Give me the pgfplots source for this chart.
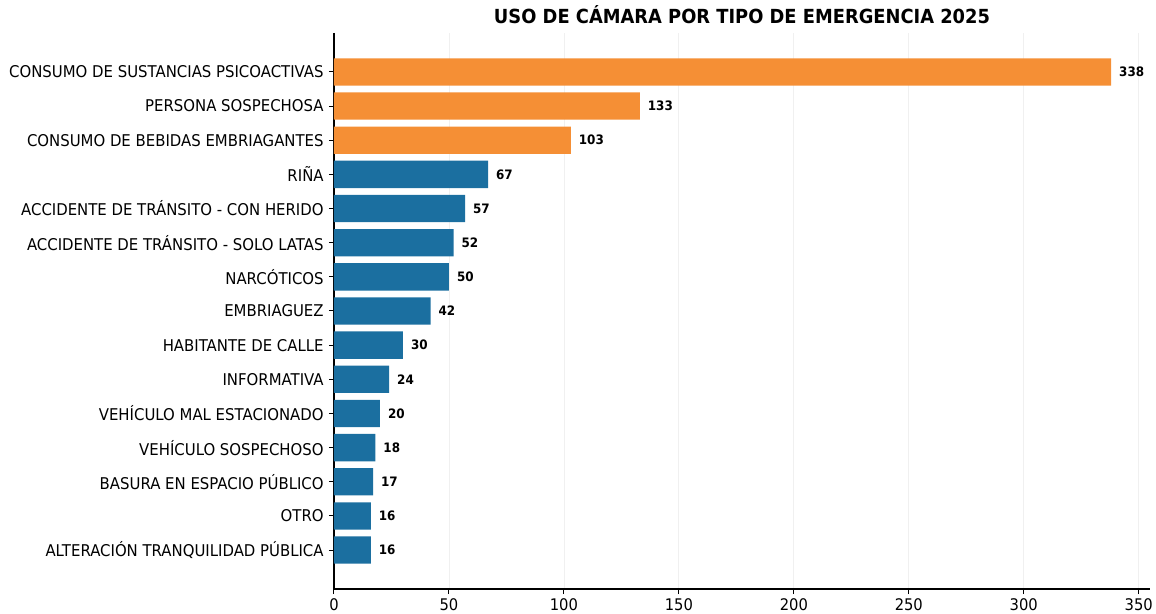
\documentclass[border=0pt]{standalone}
\usepackage{pgfplots}
\pgfplotsset{compat=1.18}
\usepackage{fontspec}
\setmainfont{DejaVu Sans}[FakeStretch=0.92]

\definecolor{naranja}{HTML}{F58F35}
\definecolor{azul}{HTML}{1B6FA0}

\begin{document}
\begin{tikzpicture}
\begin{axis}[
    scale only axis,
    width=408pt, height=278pt,
    xbar, bar width=0.8, bar shift=0pt,
    xmin=0, xmax=354.9,
    ymin=-1.14, ymax=15.14,
    y dir=reverse,
    axis x line*=bottom, axis y line*=left,
    axis line style={line width=0.6pt, -},
    tick align=outside,
    major tick length=2.5pt,
    tick style={line width=0.5pt, black},
    xtick={0,50,...,350},
    ytick={0,...,14},
    yticklabels={
        CONSUMO DE SUSTANCIAS PSICOACTIVAS,
        PERSONA SOSPECHOSA,
        CONSUMO DE BEBIDAS EMBRIAGANTES,
        RIÑA,
        ACCIDENTE DE TRÁNSITO - CON HERIDO,
        ACCIDENTE DE TRÁNSITO - SOLO LATAS,
        NARCÓTICOS,
        EMBRIAGUEZ,
        HABITANTE DE CALLE,
        INFORMATIVA,
        VEHÍCULO MAL ESTACIONADO,
        VEHÍCULO SOSPECHOSO,
        BASURA EN ESPACIO PÚBLICO,
        OTRO,
        ALTERACIÓN TRANQUILIDAD PÚBLICA},
    xmajorgrids,
    grid style={gray!12, line width=0.4pt},
    yticklabel style={font=\fontsize{8.1}{9}\selectfont, inner sep=2.5pt},
    xticklabel style={font=\fontsize{8}{9}\selectfont, inner sep=1pt, yshift=-1pt},
    /pgf/number format/assume math mode=true,
    title={USO DE CÁMARA POR TIPO DE EMERGENCIA 2025},
    title style={font=\bfseries\fontsize{9.7}{11}\selectfont, yshift=-5pt},
    nodes near coords,
    every node near coord/.append style={font=\bfseries\fontsize{6.5}{8}\selectfont, anchor=west, xshift=0.5pt, black},
]
\addplot[fill=naranja, draw=none] coordinates {
    (338,0) (133,1) (103,2)
};
\addplot[fill=azul, draw=none] coordinates {
    (67,3) (57,4) (52,5) (50,6) (42,7) (30,8) (24,9) (20,10) (18,11) (17,12) (16,13) (16,14)
};
\end{axis}
\pgfresetboundingbox
\path ([xshift=-167pt,yshift=-12.5pt]current axis.south west) rectangle ([xshift=3pt,yshift=16.5pt]current axis.north east);
\end{tikzpicture}
\end{document}
